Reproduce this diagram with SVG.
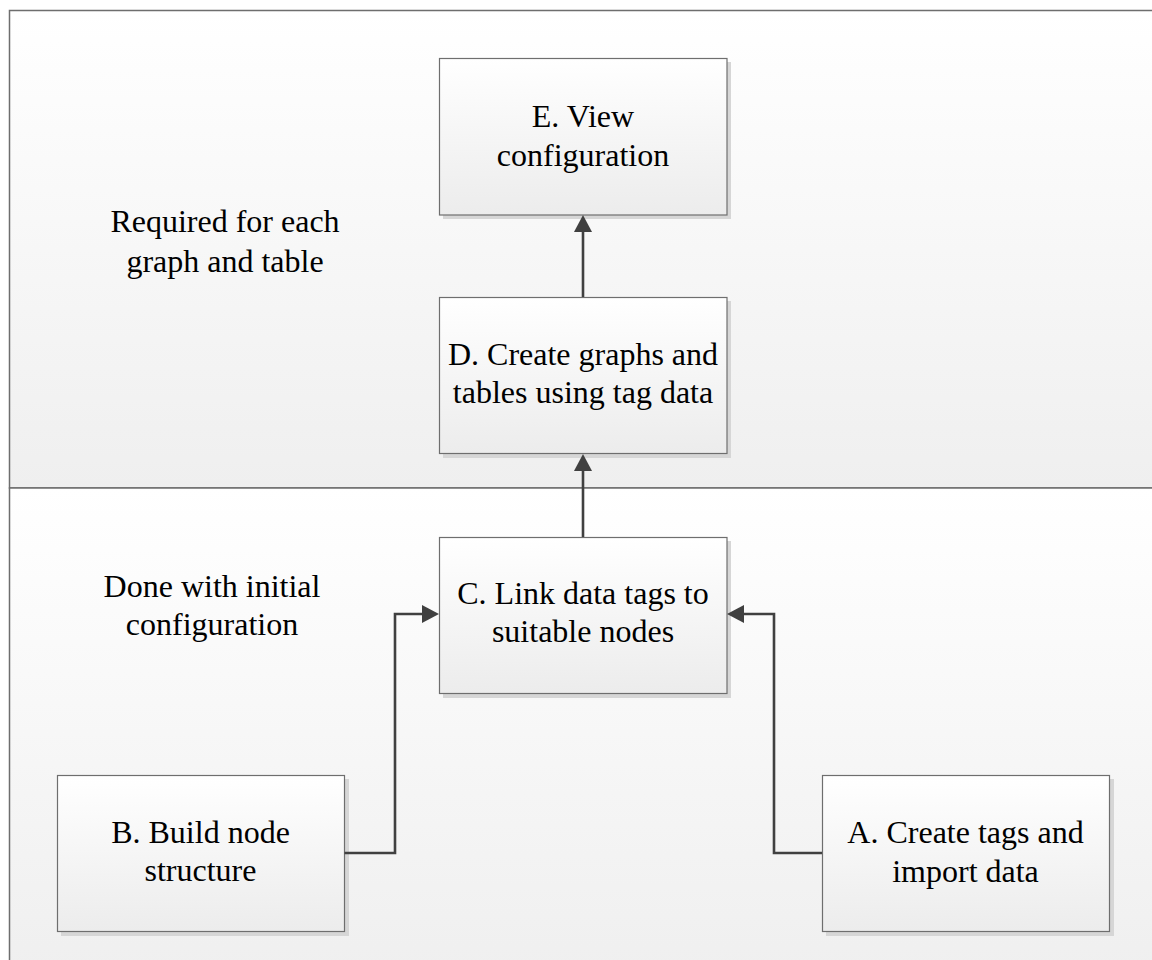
<svg xmlns="http://www.w3.org/2000/svg" width="1152" height="960" viewBox="0 0 1152 960">
  <defs>
    <linearGradient id="panelGrad" x1="0" y1="0" x2="0" y2="1">
      <stop offset="0" stop-color="#ffffff"/>
      <stop offset="1" stop-color="#efefef"/>
    </linearGradient>
    <linearGradient id="boxGrad" x1="0" y1="0" x2="0" y2="1">
      <stop offset="0" stop-color="#ffffff"/>
      <stop offset="1" stop-color="#ececec"/>
    </linearGradient>
    <marker id="arrow" markerUnits="userSpaceOnUse" markerWidth="18" markerHeight="18" viewBox="0 0 18 18" refX="7" refY="9" orient="auto">
      <path d="M0,0 L17,9 L0,18 Z" fill="#404040"/>
    </marker>
  </defs>
  <style>
    .panel { fill: url(#panelGrad); stroke: #6e6e6e; stroke-width: 1.5; }
    .shadow { fill: #d6d6d6; }
    .box { fill: url(#boxGrad); stroke: #6e6e6e; stroke-width: 1.2; }
    .label { font-family: "Liberation Serif", "Times New Roman", serif; font-size: 32px; fill: #000000; text-anchor: middle; }
    .conn { fill: none; stroke: #404040; stroke-width: 2.6; marker-end: url(#arrow); }
  </style>

  <g id="panel-top">
    <rect class="panel" x="9.5" y="10.5" width="1160" height="477.5"/>
    <text class="label" x="225" y="232">Required for each</text>
    <text class="label" x="225" y="272">graph and table</text>
  </g>
  <g id="panel-bottom">
    <rect class="panel" x="9.5" y="488" width="1160" height="490"/>
    <text class="label" x="212" y="597">Done with initial</text>
    <text class="label" x="212" y="635">configuration</text>
  </g>

  <g id="node-E">
    <rect class="shadow" x="443" y="62" width="288" height="157"/>
    <rect class="box" x="439.5" y="58.5" width="287.5" height="156.5"/>
    <text class="label" x="583" y="127">E. View</text>
    <text class="label" x="583" y="166">configuration</text>
  </g>
  <g id="node-D">
    <rect class="shadow" x="443" y="301" width="288" height="157"/>
    <rect class="box" x="439.5" y="297.5" width="287.5" height="156"/>
    <text class="label" x="583" y="365">D. Create graphs and</text>
    <text class="label" x="583" y="403">tables using tag data</text>
  </g>
  <g id="node-C">
    <rect class="shadow" x="443" y="541" width="288" height="157"/>
    <rect class="box" x="439.5" y="537.5" width="287.5" height="156"/>
    <text class="label" x="583" y="604">C. Link data tags to</text>
    <text class="label" x="583" y="642">suitable nodes</text>
  </g>
  <g id="node-B">
    <rect class="shadow" x="61" y="779" width="288" height="157"/>
    <rect class="box" x="57.5" y="775.5" width="287" height="156"/>
    <text class="label" x="200.5" y="843">B. Build node</text>
    <text class="label" x="200.5" y="881">structure</text>
  </g>
  <g id="node-A">
    <rect class="shadow" x="826" y="779" width="288" height="157"/>
    <rect class="box" x="822.5" y="775.5" width="287" height="156"/>
    <text class="label" x="965.5" y="843">A. Create tags and</text>
    <text class="label" x="965.5" y="882">import data</text>
  </g>

  <g id="connectors">
    <path class="conn" d="M583 297 V225"/>
    <path class="conn" d="M583 537 V464"/>
    <path class="conn" d="M344.5 853 H395 V614 H429"/>
    <path class="conn" d="M822 853 H774 V614 H737"/>
  </g>
</svg>
